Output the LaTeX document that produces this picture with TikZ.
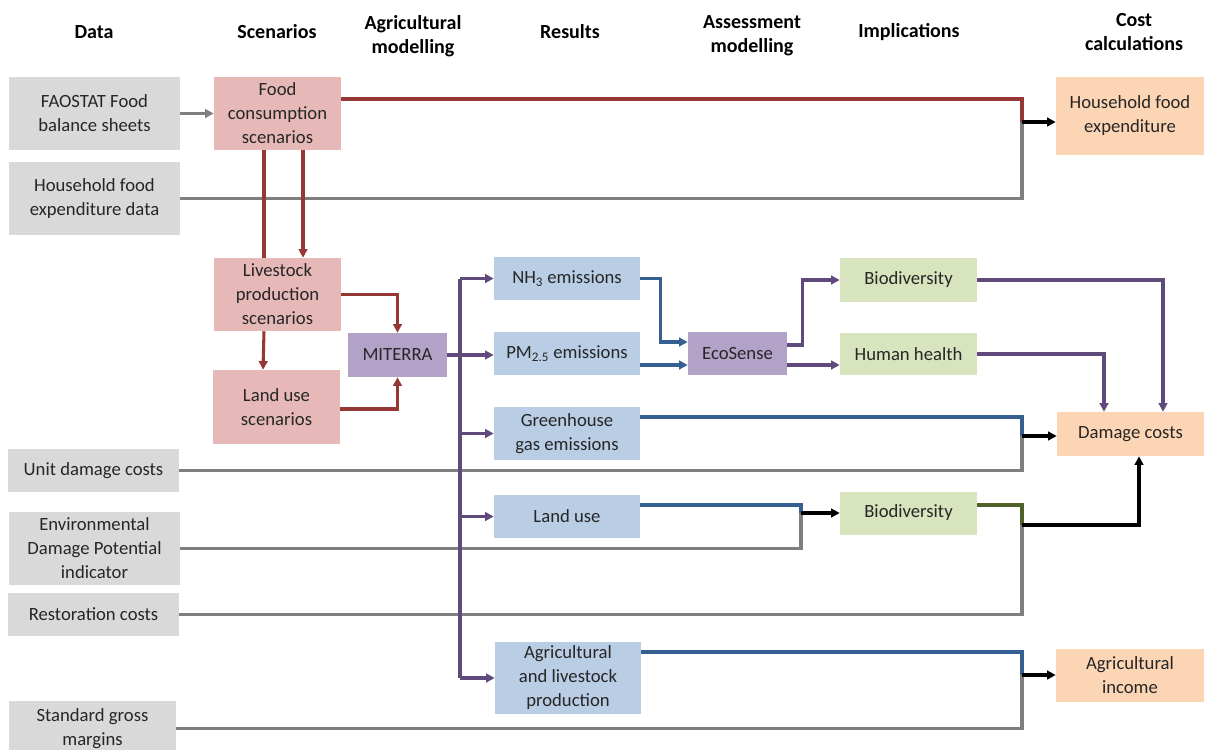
\documentclass[tikz,border=0pt]{standalone}
\usepackage{fontspec}
\setmainfont{Carlito}
\usepackage{xcolor}
\usepackage{tikz}
\usetikzlibrary{arrows.meta}
\usetikzlibrary{positioning}

\definecolor{grayfill}{HTML}{D9D9D9}
\definecolor{pinkfill}{HTML}{E6B9B8}
\definecolor{purpfill}{HTML}{B3A2C7}
\definecolor{bluefill}{HTML}{B9CDE5}
\definecolor{greenfill}{HTML}{D7E4BD}
\definecolor{orangefill}{HTML}{FCD5B5}
\definecolor{redline}{HTML}{953735}
\definecolor{grayline}{HTML}{7F7F7F}
\definecolor{purpline}{HTML}{604A7B}
\definecolor{blueline}{HTML}{376092}
\definecolor{oliveline}{HTML}{4F6228}
\definecolor{txt}{HTML}{262626}

\newcommand\px{0.75pt}

\begin{document}
\begin{tikzpicture}[x=0.75pt,y=-0.75pt,
  >={Triangle[length=6.5pt,width=6.5pt]},
  cell/.style={inner sep=0pt,align=center,text=txt,font=\fontsize{14}{18}\selectfont},
  wh/.style 2 args={minimum width=#1*\px,minimum height=#2*\px},
  datab/.style={cell,fill=grayfill},
  scen/.style={cell,fill=pinkfill},
  model/.style={cell,fill=purpfill},
  res/.style={cell,fill=bluefill},
  impl/.style={cell,fill=greenfill},
  cost/.style={cell,fill=orangefill},
  head/.style={align=center,font=\bfseries\fontsize{15}{18}\selectfont},
  wire/.style={line width=2.3pt},
  gwire/.style={wire,draw=grayline},
  rwire/.style={wire,draw=redline},
  pwire/.style={wire,draw=purpline},
  bwire/.style={wire,draw=blueline},
  owire/.style={wire,draw=oliveline},
  kwire/.style={wire,draw=black}]
\useasboundingbox (0,0) rectangle (1205,749);
\clip (0,0) rectangle (1205,749);

% column heads
\node[head] (hdata) at (94,32) {Data};
\node[head] (hscen) at (277,32) {Scenarios};
\node[head] (hagri) at (413,36) {Agricultural\\modelling};
\node[head] (hres) at (570,32) {Results};
\node[head] (hass) at (752,36) {Assessment\\modelling};
\node[head] (himp) at (909,32) {Implications};
\node[head] (hcost) at (1134,32) {Cost\\calculations};

% data
\node[datab,wh={171}{73}] (fao) at (94.5,113.5) {FAOSTAT Food\\balance sheets};
\node[datab,wh={171}{73}] (hfed) at (94.5,198.5) {Household food\\expenditure data};
\node[datab,wh={171}{43}] (udc) at (93.5,470.5) {Unit damage costs};
\node[datab,wh={171}{73}] (edp) at (94.5,548.5) {Environmental\\Damage Potential\\indicator};
\node[datab,wh={171}{43}] (rest) at (93.5,614.5) {Restoration costs};
\node[datab,wh={167}{55}] (sgm) at (92.5,728.5) {Standard gross\\margins};

% scenarios and models
\node[scen,wh={127}{73}] (food) at (277.5,113.5) {Food\\consumption\\scenarios};
\node[scen,wh={127}{73}] (live) at (277.5,294.5) {Livestock\\production\\scenarios};
\node[scen,wh={127}{74}] (lus) at (276.5,407) {Land use\\scenarios};
\node[model,wh={99}{44}] (mit) at (397.5,355) {MITERRA};
\node[model,wh={99}{43}] (eco) at (737.5,353.5) {EcoSense};

% results
\node[res,wh={146}{43}] (nh3) at (567,278.5) {NH\textsubscript{3} emissions};
\node[res,wh={146}{43}] (pm) at (567,353.5) {PM\textsubscript{2.5} emissions};
\node[res,wh={146}{53}] (ghg) at (567,433.5) {Greenhouse\\gas emissions};
\node[res,wh={146}{43}] (lu) at (567,516.5) {Land use};
\node[res,wh={146}{72}] (agp) at (568,678) {Agricultural\\and livestock\\production};

% implications and costs
\node[impl,wh={137}{44}] (bio1) at (908.5,280) {Biodiversity};
\node[impl,wh={137}{42}] (hh) at (908.5,354) {Human health};
\node[impl,wh={137}{43}] (bio2) at (908.5,513) {Biodiversity};
\node[cost,wh={148}{78}] (hfe) at (1130,116) {Household food\\expenditure};
\node[cost,wh={147}{44}] (dmg) at (1130.5,434) {Damage costs};
\node[cost,wh={148}{53}] (ainc) at (1130,675.5) {Agricultural\\income};

\coordinate (jHfe) at (1022,122);
\coordinate (jDmg) at (1022,436);
\coordinate (jBio) at (801,513);
\coordinate (jLand) at (1022,525);
\coordinate (jInc) at (1022,675);
\coordinate (trunk) at (460,0);

% data lines
\draw[gwire,->] (fao) -- (food);
\draw[gwire] (hfed.east) -| (jHfe);
\draw[gwire] (udc.east) -| (jDmg);
\draw[gwire] (edp.east) -| (jBio);
\draw[gwire] (rest.east) -| (jLand);
\draw[gwire] (sgm.east) -| (jInc);

% scenarios
\draw[rwire] ([yshift=14.5*\px]food.east) -| (jHfe);
\draw[rwire] ([xshift=-13.5*\px]food.south) -- ([xshift=-13.5*\px]live.north);
\draw[rwire,->] ([xshift=25.5*\px]food.south) -- ([xshift=25.5*\px]live.north);
\draw[rwire,->] ([xshift=-13.5*\px]live.south) -- ([xshift=-13.5*\px]lus.north);
\draw[rwire,->] (live.east) -| (mit.north);
\draw[rwire,->] ([yshift=-2*\px]lus.east) -| (mit.south);

% results
\draw[pwire,->] (mit.east) -- (mit.east -| pm.west);
\draw[pwire] (trunk |- nh3.west) -- (trunk |- agp.west);
\foreach \r in {nh3,ghg,lu,agp}
  \draw[pwire,->] (trunk |- \r.west) -- (\r.west);

% assessment
\draw[bwire,->] (nh3.east) -- ++(20,0) |- ([yshift=11.5*\px]eco.west);
\draw[bwire,->] ([yshift=-11.5*\px]pm.east) -- ([yshift=-11.5*\px]eco.west);
\draw[pwire,->] ([yshift=8.5*\px]eco.east) -- ++(15,0) |- (bio1.west);
\draw[pwire,->] ([yshift=-11.5*\px]eco.east) -- ([yshift=-11.5*\px]eco.east -| hh.west);
\draw[pwire,->] (bio1.east) -| ([xshift=32.5*\px]dmg.north);
\draw[pwire,->] (hh.east) -| ([xshift=-26.5*\px]dmg.north);
\draw[bwire] ([yshift=16.5*\px]ghg.east) -| (jDmg);
\draw[bwire] ([yshift=11.5*\px]lu.east) -| (jBio);
\draw[owire] ([yshift=8*\px]bio2.east) -| (jLand);
\draw[bwire] ([yshift=26*\px]agp.east) -| (jInc);

% costs
\draw[kwire,->] (jHfe) -- (jHfe -| hfe.west);
\draw[kwire,->] (jDmg) -- (jDmg -| dmg.west);
\draw[kwire,->] (jBio) -- (jBio -| bio2.west);
\draw[kwire,->] (jLand) -| ([xshift=8.5*\px]dmg.south);
\draw[kwire,->] (jInc) -- (jInc -| ainc.west);
\end{tikzpicture}
\end{document}
